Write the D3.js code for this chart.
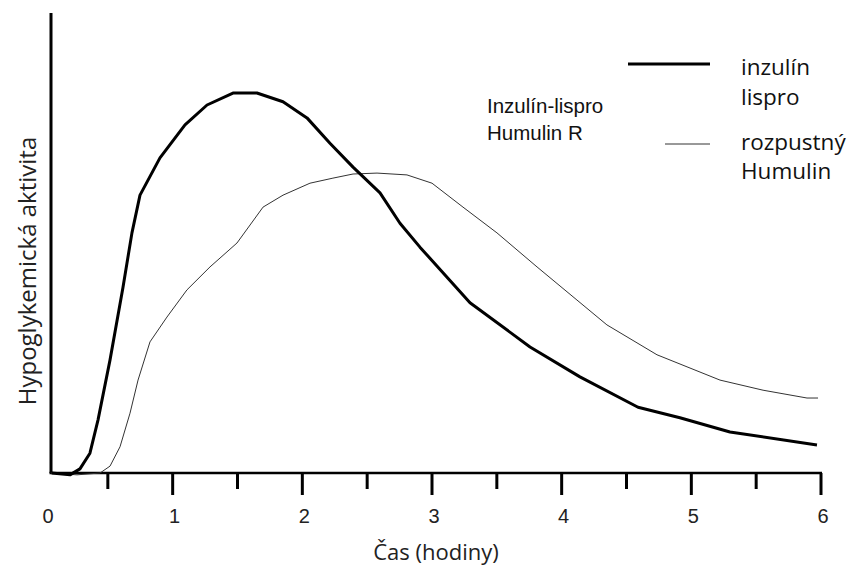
<!DOCTYPE html>
<html>
<head>
<meta charset="utf-8">
<script src="https://cdn.jsdelivr.net/npm/d3@7"></script>
<style>
  html, body { margin: 0; padding: 0; background: #fff; }
  svg { display: block; }
</style>
</head>
<body>
<svg id="chart" width="851" height="570"></svg>
<script>
// ---- data (hours, relative hypoglycemic activity 0-100) ----
const lisproTime = [0.067, 0.208, 0.285, 0.362, 0.424, 0.517, 0.617, 0.686, 0.748, 0.902, 1.095, 1.265, 1.465, 1.650, 1.851, 2.036, 2.213, 2.391, 2.599, 2.753, 2.907, 3.293, 3.756, 4.141, 4.589, 4.912, 5.298, 5.969];
const lisproValue = [0, -0.4, 0.9, 4.3, 11.5, 24.6, 40.4, 52.2, 60.4, 68.5, 75.7, 80.0, 82.6, 82.6, 80.7, 77.2, 71.7, 66.5, 60.9, 54.3, 49.1, 37.0, 27.4, 20.9, 14.3, 12.0, 8.9, 6.1];

const humulinTime = [0.06, 0.262, 0.44, 0.517, 0.594, 0.671, 0.733, 0.825, 0.956, 1.11, 1.288, 1.496, 1.697, 1.851, 2.059, 2.236, 2.391, 2.576, 2.807, 3.0, 3.239, 3.501, 3.81, 4.118, 4.349, 4.735, 5.221, 5.553, 5.892, 5.977];
const humulinValue = [0, -0.4, 0, 1.5, 5.7, 13.0, 20.2, 28.5, 33.9, 39.8, 44.8, 50.0, 57.8, 60.4, 63.0, 64.1, 65.0, 65.2, 64.8, 63.0, 57.8, 52.2, 44.8, 37.6, 32.2, 25.7, 20.2, 18.0, 16.3, 16.3];

const majorTicks = [1, 2, 3, 4, 5, 6];
const minorTicks = [0.5, 1.5, 2.5, 3.5, 4.5, 5.5];
const tickLabels = ["0", "1", "2", "3", "4", "5", "6"];

const xTitle = "Čas (hodiny)";
const yTitle = "Hypoglykemická aktivita";
const annotation = ["Inzulín-lispro", "Humulin R"];
const legendLispro = ["inzulín", "lispro"];
const legendHumulin = ["rozpustný", "Humulin"];

// ---- layout ----
const svg = d3.select("#chart");
const x = d3.scaleLinear().domain([0, 6]).range([43, 821]);
const y = d3.scaleLinear().domain([0, 100]).range([473, 13]);
const axisX0 = 51; // y-axis position in pixels
const sans = "'Liberation Sans', Arial, sans-serif";
const ui = "'Open Sans', 'Noto Sans', sans-serif";

// axes lines
svg.append("line")
  .attr("x1", axisX0).attr("x2", axisX0)
  .attr("y1", y(100)).attr("y2", y(0))
  .attr("stroke", "#000").attr("stroke-width", 3);
svg.append("line")
  .attr("x1", axisX0 - 1.5).attr("x2", x(6) + 1)
  .attr("y1", y(0)).attr("y2", y(0))
  .attr("stroke", "#000").attr("stroke-width", 2.5);

// ticks
svg.selectAll("line.major").data(majorTicks).join("line")
  .attr("class", "major")
  .attr("x1", d => x(d)).attr("x2", d => x(d))
  .attr("y1", y(0)).attr("y2", y(0) + 22)
  .attr("stroke", "#000").attr("stroke-width", 3);
svg.selectAll("line.minor").data(minorTicks).join("line")
  .attr("class", "minor")
  .attr("x1", d => x(d)).attr("x2", d => x(d))
  .attr("y1", y(0)).attr("y2", y(0) + 16)
  .attr("stroke", "#000").attr("stroke-width", 3);

// tick labels
svg.selectAll("text.tick").data(tickLabels).join("text")
  .attr("class", "tick")
  .attr("x", (d, i) => x(i) + (i === 0 ? 5 : 2))
  .attr("y", y(0) + 50)
  .attr("text-anchor", "middle")
  .attr("font-family", sans)
  .attr("font-size", 20)
  .attr("fill", "#222")
  .text(d => d);

// axis titles
svg.append("text")
  .attr("x", 436).attr("y", 560)
  .attr("text-anchor", "middle")
  .attr("font-family", ui).attr("font-size", 22)
  .attr("fill", "#222")
  .text(xTitle);
svg.append("text")
  .attr("transform", "translate(36,271) rotate(-90)")
  .attr("text-anchor", "middle")
  .attr("font-family", ui).attr("font-size", 24)
  .attr("fill", "#222")
  .text(yTitle);

// lines
const line = d3.line().x(d => x(d[0])).y(d => y(d[1])).curve(d3.curveLinear);
const humulin = humulinTime.map((t, i) => [t, humulinValue[i]]);
const lispro = lisproTime.map((t, i) => [t, lisproValue[i]]);

svg.append("path")
  .attr("d", line(humulin))
  .attr("fill", "none")
  .attr("stroke", "#333")
  .attr("stroke-width", 1)
  .attr("stroke-linejoin", "round");
svg.append("path")
  .attr("d", line(lispro))
  .attr("fill", "none")
  .attr("stroke", "#000")
  .attr("stroke-width", 3)
  .attr("stroke-linejoin", "round");

// annotation
svg.selectAll("text.annot").data(annotation).join("text")
  .attr("class", "annot")
  .attr("font-family", sans).attr("font-size", 20.5)
  .attr("fill", "#111")
  .attr("x", 487).attr("y", (d, i) => 113 + i * 27)
  .text(d => d);

// legend
svg.append("line")
  .attr("x1", 628).attr("x2", 710).attr("y1", 64).attr("y2", 64)
  .attr("stroke", "#000").attr("stroke-width", 3);
svg.append("line")
  .attr("x1", 665).attr("x2", 710).attr("y1", 144).attr("y2", 144)
  .attr("stroke", "#333").attr("stroke-width", 1);

svg.selectAll("text.leg1").data(legendLispro).join("text")
  .attr("class", "leg1")
  .attr("font-family", ui).attr("font-size", 22.5)
  .attr("fill", "#111")
  .attr("x", 741).attr("y", (d, i) => 75 + i * 30)
  .text(d => d);
svg.selectAll("text.leg2").data(legendHumulin).join("text")
  .attr("class", "leg2")
  .attr("font-family", ui).attr("font-size", 22.5)
  .attr("fill", "#111")
  .attr("x", 741).attr("y", (d, i) => 150 + i * 29)
  .text(d => d);
</script>
</body>
</html>
